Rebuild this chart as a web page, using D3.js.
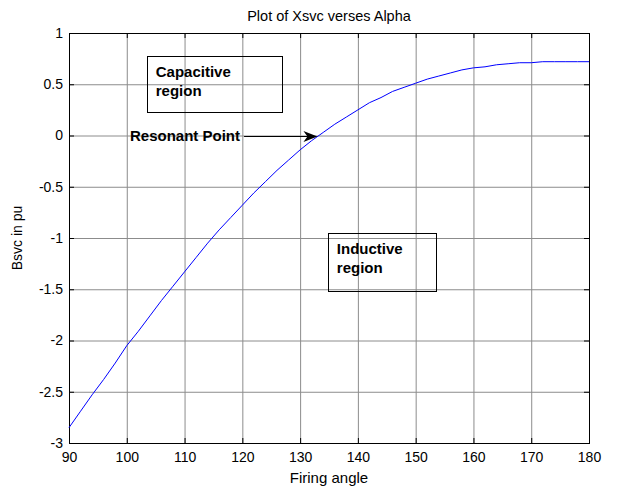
<!DOCTYPE html>
<html>
<head>
<meta charset="utf-8">
<script src="https://cdn.jsdelivr.net/npm/d3@7"></script>
<style>
  body { margin: 0; background: #fff; }
  svg { font-family: "Liberation Sans", Arial, sans-serif; }
  .grid line { stroke: #8c8c8c; stroke-width: 1; }
  .note { font-weight: bold; font-size: 15px; }
</style>
</head>
<body>
<svg width="628" height="488"></svg>
<script>
// firing angle (deg) and Bsvc (pu)
var alpha = [90, 92, 94, 96, 98, 100, 102, 104, 106, 108, 110, 112, 114, 116, 118, 120,
             122, 124, 126, 128, 130, 132, 134, 136, 138, 140, 142, 144, 146, 148, 150,
             152, 154, 156, 158, 160, 162, 164, 166, 168, 170, 172, 174, 176, 178, 180];
var bsvc = [-2.85, -2.69, -2.53, -2.38, -2.22, -2.05, -1.91, -1.76, -1.61, -1.47, -1.33, -1.19, -1.05, -0.92, -0.80, -0.68,
            -0.56, -0.45, -0.34, -0.24, -0.14, -0.05, 0.03, 0.11, 0.18, 0.25, 0.32, 0.37, 0.43, 0.47, 0.51,
            0.55, 0.58, 0.61, 0.64, 0.66, 0.67, 0.69, 0.70, 0.71, 0.71, 0.72, 0.72, 0.72, 0.72, 0.72];

var xTicks = [90, 100, 110, 120, 130, 140, 150, 160, 170, 180];
var yTicks = [-3, -2.5, -2, -1.5, -1, -0.5, 0, 0.5, 1];

var svg = d3.select("svg");
var margin = {top: 33, right: 39, bottom: 45, left: 69};
var width = 628 - margin.left - margin.right;
var height = 488 - margin.top - margin.bottom;

var x = d3.scaleLinear().domain([90, 180]).range([0, width]);
var y = d3.scaleLinear().domain([-3, 1]).range([height, 0]);

var g = svg.append("g")
    .attr("transform", "translate(" + margin.left + "," + margin.top + ")");

// grid
var grid = g.append("g").attr("class", "grid");
grid.selectAll(".gx")
    .data(xTicks.slice(1, -1))
  .enter().append("line")
    .attr("x1", function(d) { return x(d) + 0.5; })
    .attr("x2", function(d) { return x(d) + 0.5; })
    .attr("y1", 0)
    .attr("y2", height);
grid.selectAll(".gy")
    .data(yTicks.slice(1, -1))
  .enter().append("line")
    .attr("y1", function(d) { return y(d) + 0.5; })
    .attr("y2", function(d) { return y(d) + 0.5; })
    .attr("x1", 0)
    .attr("x2", width);

// axes (ticks inward, MATLAB style)
g.append("g")
    .attr("transform", "translate(0," + height + ")")
    .call(d3.axisBottom(x).tickValues(xTicks).tickSize(-5).tickPadding(9).tickFormat(d3.format("d")));
g.append("g")
    .call(d3.axisLeft(y).tickValues(yTicks).tickSize(-5).tickPadding(6).tickFormat(function(d) { return String(d); }));
g.append("g")
    .call(d3.axisTop(x).tickValues(xTicks).tickSize(-5).tickFormat(""));
g.append("g")
    .attr("transform", "translate(" + width + ",0)")
    .call(d3.axisRight(y).tickValues(yTicks).tickSize(-5).tickFormat(""));

svg.selectAll(".domain").remove();
svg.selectAll(".tick line").attr("stroke", "#000");
svg.selectAll(".tick text")
    .attr("fill", "#000")
    .style("font-family", "'Liberation Sans', Arial, sans-serif")
    .style("font-size", "14px");

g.append("rect")
    .attr("x", 0.5)
    .attr("y", 0.5)
    .attr("width", width)
    .attr("height", height)
    .attr("fill", "none")
    .attr("stroke", "#000");

// curve
var line = d3.line()
    .x(function(d, i) { return x(alpha[i]); })
    .y(function(d) { return y(d); });
g.append("path")
    .datum(bsvc)
    .attr("fill", "none")
    .attr("stroke", "#0000ff")
    .attr("stroke-width", 1)
    .attr("d", line);

// annotations
function box(x0, x1, y0, y1, lines) {
  g.append("rect")
      .attr("x", Math.round(x(x0)) + 0.5)
      .attr("y", Math.round(y(y0)) + 0.5)
      .attr("width", Math.round(x(x1) - x(x0)))
      .attr("height", Math.round(y(y1) - y(y0)))
      .attr("fill", "none")
      .attr("stroke", "#000");
  g.append("text")
      .attr("class", "note")
      .selectAll("tspan")
      .data(lines)
    .enter().append("tspan")
      .attr("x", x(x0) + 9)
      .attr("y", function(d, i) { return y(y0) + 21 + i * 19; })
      .text(function(d) { return d; });
}
box(103.45, 126.9, 0.776, 0.226, ["Capacitive", "region"]);
box(134.8, 153.5, -0.954, -1.517, ["Inductive", "region"]);

g.append("text")
    .attr("class", "note")
    .attr("x", x(100.55))
    .attr("y", y(0) + 5)
    .text("Resonant Point");
var tipX = x(133.0), tipY = Math.round(y(0)) + 0.5;
g.append("line")
    .attr("x1", x(120.3))
    .attr("x2", tipX - 8)
    .attr("y1", tipY)
    .attr("y2", tipY)
    .attr("stroke", "#000");
g.append("path")
    .attr("d", "M" + tipX + "," + tipY +
               "L" + (tipX - 14) + "," + (tipY - 5.5) +
               "L" + (tipX - 10) + "," + tipY +
               "L" + (tipX - 14) + "," + (tipY + 5.5) + "Z")
    .attr("fill", "#000");

// titles
svg.append("text")
    .attr("x", margin.left + width / 2)
    .attr("y", 21)
    .attr("text-anchor", "middle")
    .style("font-size", "14.5px")
    .text("Plot of Xsvc verses Alpha");
svg.append("text")
    .attr("x", margin.left + width / 2)
    .attr("y", 482.5)
    .attr("text-anchor", "middle")
    .style("font-size", "15px")
    .text("Firing angle");
svg.append("text")
    .attr("transform", "translate(22," + (margin.top + height / 2) + ") rotate(-90)")
    .attr("text-anchor", "middle")
    .style("font-size", "14px")
    .text("Bsvc in pu");
</script>
</body>
</html>
